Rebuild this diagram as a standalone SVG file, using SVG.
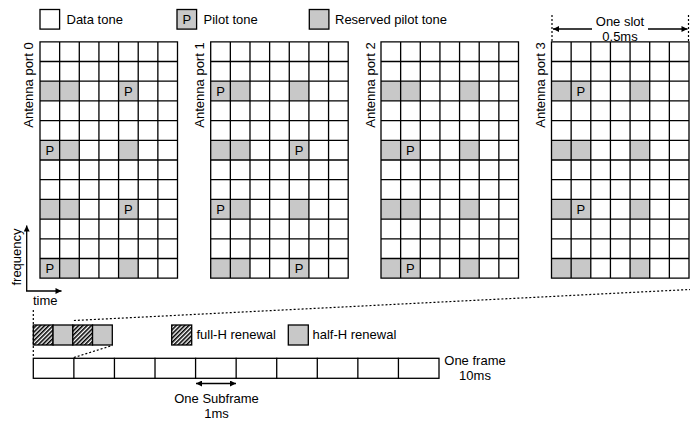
<svg xmlns="http://www.w3.org/2000/svg" xmlns:xlink="http://www.w3.org/1999/xlink" width="694" height="424" viewBox="0 0 694 424">
<style>
text{font-family:"Liberation Sans",Arial,sans-serif;font-size:13px;fill:#000}
.c{text-anchor:middle}
.box{fill:#fff;stroke:#000;stroke-width:1.3}
.gray{fill:#c8c8c8}
.gbox{fill:#c8c8c8;stroke:#000;stroke-width:1.3}
.hbox{fill:url(#hatch);stroke:#000;stroke-width:1.3}
.gl{fill:none;stroke:#000;stroke-width:1.3;stroke-linecap:square}
.dot{fill:none;stroke:#000;stroke-width:1.2;stroke-dasharray:2 2}
.arr{fill:none;stroke:#000;stroke-width:1.3;marker-end:url(#ah)}
.arr2{fill:none;stroke:#000;stroke-width:1.3;marker-start:url(#ah);marker-end:url(#ah)}
</style>
<defs>
<marker id="ah" viewBox="0 0 10 10" refX="10" refY="5" markerWidth="8" markerHeight="6" markerUnits="userSpaceOnUse" orient="auto-start-reverse"><path d="M0 0L10 5L0 10z" fill="#000"/></marker>
<pattern id="hatch" patternUnits="userSpaceOnUse" width="3" height="3" patternTransform="rotate(45)"><rect width="3" height="3" fill="#fff"/><line x1="0.8" y1="0" x2="0.8" y2="3" stroke="#000" stroke-width="1.6"/></pattern>
<g id="grid">
<rect x="0" y="0" width="137.5" height="236.4" fill="#fff"/>
<g class="gray">
<rect x="0" y="39.4" width="39.29" height="19.7"/><rect x="78.57" y="39.4" width="19.64" height="19.7"/>
<rect x="0" y="98.5" width="39.29" height="19.7"/><rect x="78.57" y="98.5" width="19.64" height="19.7"/>
<rect x="0" y="157.6" width="39.29" height="19.7"/><rect x="78.57" y="157.6" width="19.64" height="19.7"/>
<rect x="0" y="216.7" width="39.29" height="19.7"/><rect x="78.57" y="216.7" width="19.64" height="19.7"/>
</g>
<path class="gl" d="M0 0V236.4M19.64 0V236.4M39.29 0V236.4M58.93 0V236.4M78.57 0V236.4M98.21 0V236.4M117.86 0V236.4M137.5 0V236.4M0 0H137.5M0 19.7H137.5M0 39.4H137.5M0 59.1H137.5M0 78.8H137.5M0 98.5H137.5M0 118.2H137.5M0 137.9H137.5M0 157.6H137.5M0 177.3H137.5M0 197H137.5M0 216.7H137.5M0 236.4H137.5"/>
</g>
</defs>

<g id="legend-data"><rect class="box" x="40" y="9.5" width="19.6" height="19.6"/><text x="66.5" y="23.5">Data tone</text></g>
<g id="legend-pilot"><rect class="gbox" x="177" y="9.5" width="19.6" height="19.6"/><text class="c" x="186.8" y="23.8">P</text><text x="203.5" y="23.5">Pilot tone</text></g>
<g id="legend-reserved"><rect class="gbox" x="309.3" y="9.5" width="19.6" height="19.6"/><text x="335" y="23.5">Reserved pilot tone</text></g>

<g id="port0">
<use href="#grid" x="40" y="41.8"/>
<text transform="translate(33,85) rotate(-90)" class="c">Antenna port 0</text>
<g transform="translate(40,41.8)"><text class="c" x="88.39" y="53.9">P</text><text class="c" x="9.82" y="113">P</text><text class="c" x="88.39" y="172.1">P</text><text class="c" x="9.82" y="231.2">P</text></g>
</g>
<g id="port1">
<use href="#grid" x="210.7" y="41.8"/>
<text transform="translate(204,85) rotate(-90)" class="c">Antenna port 1</text>
<g transform="translate(210.7,41.8)"><text class="c" x="9.82" y="53.9">P</text><text class="c" x="88.39" y="113">P</text><text class="c" x="9.82" y="172.1">P</text><text class="c" x="88.39" y="231.2">P</text></g>
</g>
<g id="port2">
<use href="#grid" x="381" y="41.8"/>
<text transform="translate(374.5,85) rotate(-90)" class="c">Antenna port 2</text>
<g transform="translate(381,41.8)"><text class="c" x="29.46" y="113">P</text><text class="c" x="29.46" y="231.2">P</text></g>
</g>
<g id="port3">
<use href="#grid" x="551.5" y="41.8"/>
<text transform="translate(545,85) rotate(-90)" class="c">Antenna port 3</text>
<g transform="translate(551.5,41.8)"><text class="c" x="29.46" y="53.9">P</text><text class="c" x="29.46" y="172.1">P</text></g>
</g>

<g id="slot-label"><text class="c" x="620" y="26">One slot</text><text class="c" x="620" y="41">0.5ms</text></g>
<g id="axes-labels"><text transform="translate(20.5,257) rotate(-90)" class="c">frequency</text><text x="33" y="305">time</text></g>

<g id="subframe-block">
<rect class="hbox" x="33.3" y="325" width="19.75" height="20"/>
<rect class="gbox" x="53.05" y="325" width="19.75" height="20"/>
<rect class="hbox" x="72.8" y="325" width="19.75" height="20"/>
<rect class="gbox" x="92.55" y="325" width="19.75" height="20"/>
</g>
<g id="legend-full"><rect class="hbox" x="171.7" y="325" width="20" height="20"/><text x="196.5" y="339">full-H renewal</text></g>
<g id="legend-half"><rect class="gbox" x="288.3" y="325" width="20" height="20"/><text x="312.5" y="339">half-H renewal</text></g>

<g id="frame">
<rect class="box" x="33.3" y="358.3" width="405.7" height="20"/>
<path class="gl" d="M73.87 358.3V378.3M114.44 358.3V378.3M155.01 358.3V378.3M195.58 358.3V378.3M236.15 358.3V378.3M276.72 358.3V378.3M317.29 358.3V378.3M357.86 358.3V378.3M398.43 358.3V378.3"/>
<text class="c" x="475" y="365">One frame</text><text class="c" x="475" y="379.5">10ms</text>
</g>
<g id="subframe-label"><text class="c" x="216.5" y="403">One Subframe</text><text class="c" x="216.5" y="418">1ms</text></g>

<g id="connectors">
<path class="dot" d="M552 15V42M688.5 15V42"/>
<path class="arr" d="M592 29H553"/>
<path class="arr" d="M648 29H687.5"/>
<path class="arr" d="M26.7 291V225.5"/>
<path class="arr" d="M26 291H61.5"/>
<path class="dot" d="M33.3 310V358"/>
<path class="dot" d="M73.9 357.5L112.3 345.5"/>
<path class="dot" d="M73.9 320.5L690 289.5"/>
<path class="arr2" d="M196 383.5H236"/>
</g>
</svg>
